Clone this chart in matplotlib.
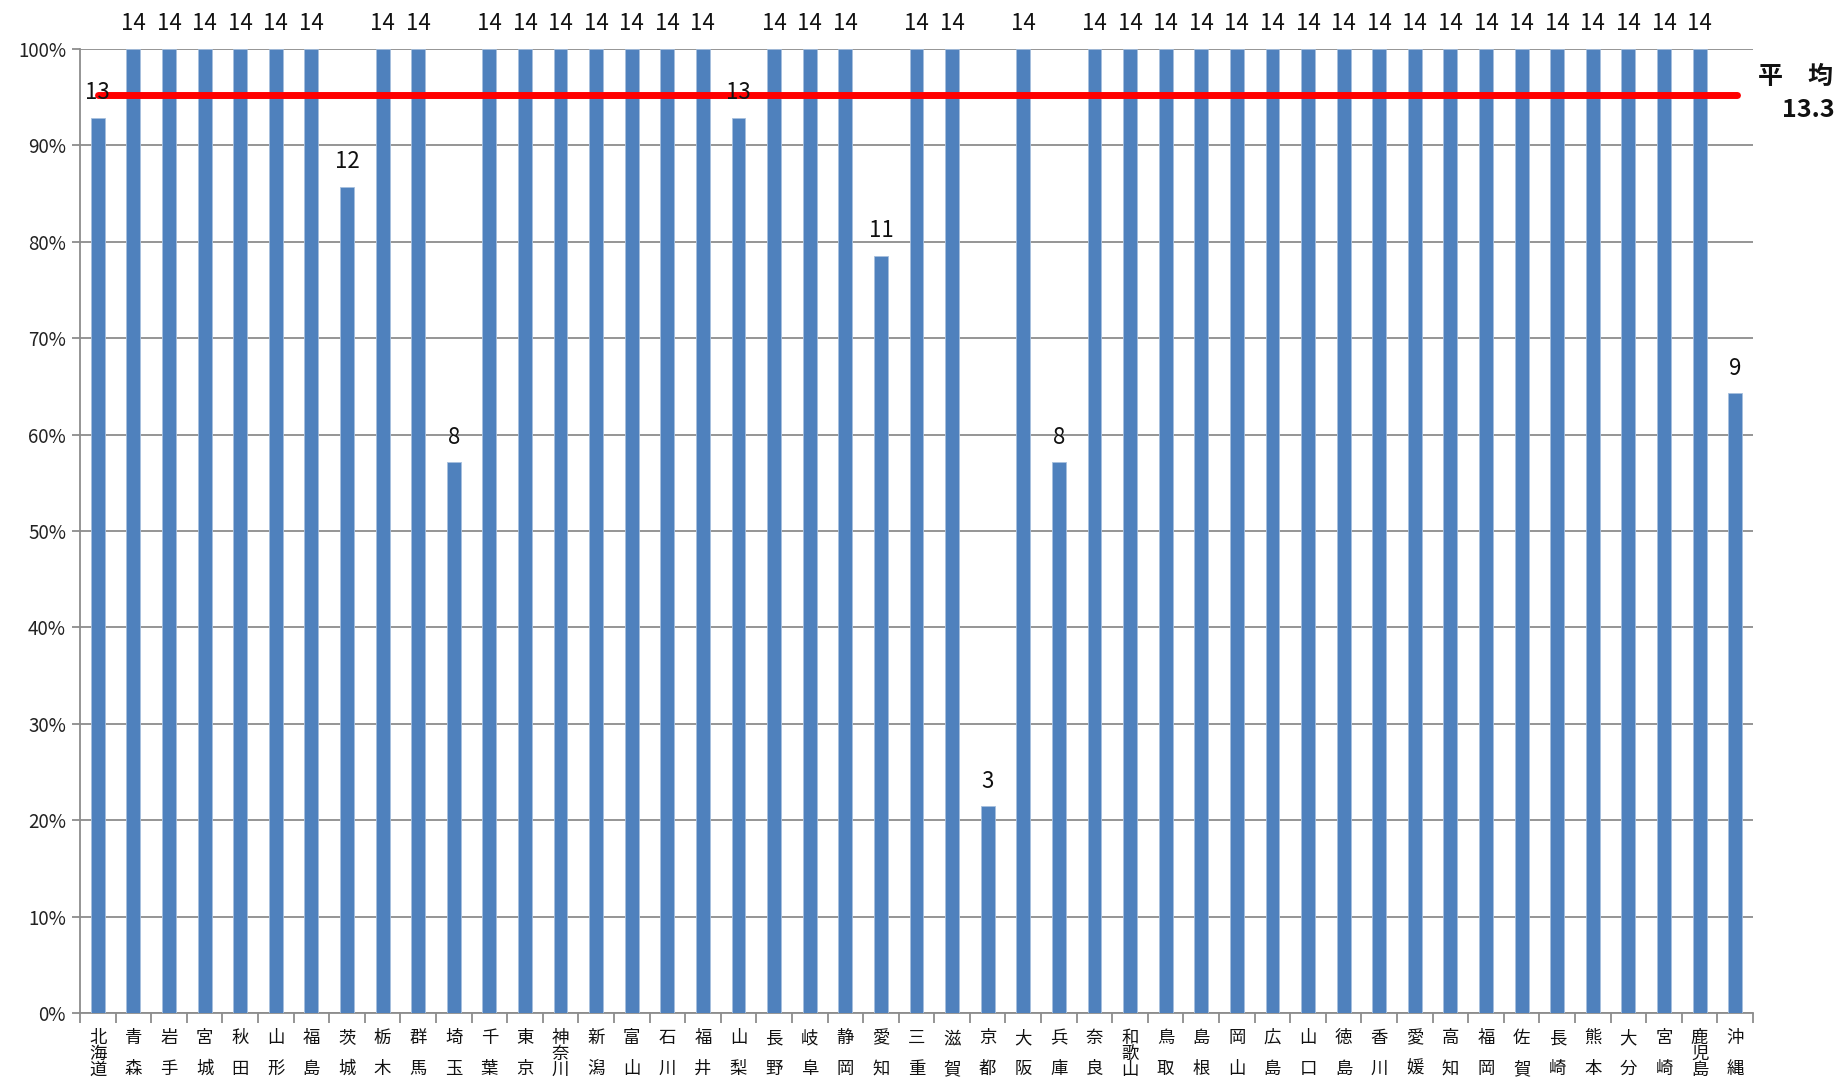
import matplotlib
matplotlib.use("Agg")
import matplotlib.pyplot as plt
import numpy as np

plt.rcParams['font.family'] = ['Noto Sans CJK JP', 'DejaVu Sans']

prefectures = ["北海道", "青森", "岩手", "宮城", "秋田", "山形", "福島", "茨城", "栃木", "群馬",
               "埼玉", "千葉", "東京", "神奈川", "新潟", "富山", "石川", "福井", "山梨", "長野",
               "岐阜", "静岡", "愛知", "三重", "滋賀", "京都", "大阪", "兵庫", "奈良", "和歌山",
               "鳥取", "島根", "岡山", "広島", "山口", "徳島", "香川", "愛媛", "高知", "福岡",
               "佐賀", "長崎", "熊本", "大分", "宮崎", "鹿児島", "沖縄"]
counts = [13, 14, 14, 14, 14, 14, 14, 12, 14, 14,
          8, 14, 14, 14, 14, 14, 14, 14, 13, 14,
          14, 14, 11, 14, 14, 3, 14, 8, 14, 14,
          14, 14, 14, 14, 14, 14, 14, 14, 14, 14,
          14, 14, 14, 14, 14, 14, 9]
max_count = 14
average = 13.33
yticks = [0, 0.1, 0.2, 0.3, 0.4, 0.5, 0.6, 0.7, 0.8, 0.9, 1.0]
ytick_labels = ["0%", "10%", "20%", "30%", "40%", "50%", "60%", "70%", "80%", "90%", "100%"]

W, H = 1841, 1082
fig = plt.figure(figsize=(W / 100, H / 100), dpi=100)
ax = fig.add_axes([80 / W, 1 - 1013 / H, (1753 - 80) / W, (1013 - 49) / H])

x = np.arange(len(prefectures))
ratios = np.array(counts) / max_count
ax.bar(x, ratios, width=0.39, color="#4F81BD", edgecolor="#A7C0DE", linewidth=0.6, zorder=3)

ax.set_xlim(-0.5, len(prefectures) - 0.5)
ax.set_ylim(0, 1.0)
ax.set_yticks(yticks)
ax.set_yticklabels(ytick_labels, fontsize=13.5, color="#222222")
ax.yaxis.grid(True, color="#8C8C8C", linewidth=1.3, zorder=0)
ax.set_axisbelow(True)
for s in ["top", "right"]:
    ax.spines[s].set_visible(False)
for s in ["left", "bottom"]:
    ax.spines[s].set_color("#8C8C8C")
    ax.spines[s].set_linewidth(1.3)
ax.tick_params(axis="y", length=6, width=1.3, color="#8C8C8C", direction="out", pad=4)

# category boundary ticks on bottom
ax.set_xticks(np.arange(-0.5, len(prefectures) + 0.5, 1.0))
ax.set_xticklabels([])
ax.tick_params(axis="x", length=7, width=1.3, color="#8C8C8C", direction="out")

# vertical category labels
for i, name in enumerate(prefectures):
    chars = list(name)
    if len(chars) == 2:
        offs = [25, 56]
    else:
        offs = [25 + 16 * k for k in range(len(chars))]
    for ch, off in zip(chars, offs):
        ax.annotate(ch, xy=(i, 0), xycoords=("data", "axes fraction"),
                    xytext=(0, -off), textcoords="offset pixels",
                    ha="center", va="center", fontsize=12.5, color="#111111")

# average line
avg_ratio = average / max_count
ax.plot([0, len(prefectures) - 1 + 0.05], [avg_ratio, avg_ratio], color="#FF0000",
        linewidth=5, solid_capstyle="round", zorder=4)

# value labels
for i, (c, r) in enumerate(zip(counts, ratios)):
    ax.annotate(str(c), xy=(i, r), xycoords="data", xytext=(0, 25),
                textcoords="offset pixels", ha="center", va="center",
                fontsize=16, color="#111111", zorder=5, annotation_clip=False)

fig.text(1833 / W, 1 - 77 / H, "平　均", ha="right", va="center", fontsize=18,
         fontweight="bold", color="#111111")
fig.text(1835 / W, 1 - 110 / H, f"{average:.1f}", ha="right", va="center", fontsize=18,
         fontweight="bold", color="#111111")

fig.savefig("out.png", dpi=100)
